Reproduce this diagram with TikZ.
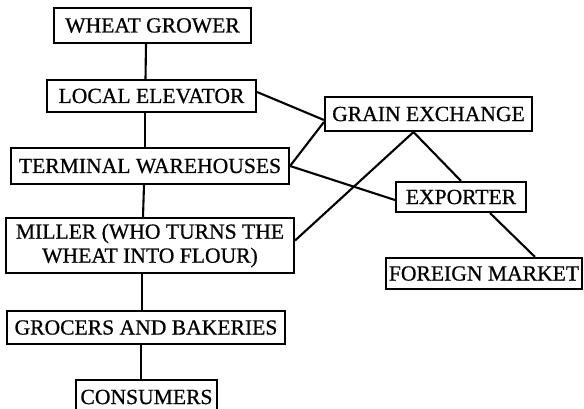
\documentclass[tikz,border=0pt]{standalone}
\usepackage{fontspec}
\newfontfamily\boxfont[FakeBold=0.7]{Liberation Serif}
\begin{document}
\begin{tikzpicture}[x=1pt,y=-1pt,
  box/.style={draw,line width=2.1pt,inner sep=0pt,align=center,
    font=\boxfont\fontsize{21.6}{24}\selectfont},
  link/.style={line width=2.1pt}]
\useasboundingbox[fill=white] (0,0) rectangle (584,408);
% left-hand chain
\node[box,minimum width=197pt,minimum height=35pt] (wheat) at (152.5,25.5) {WHEAT GROWER};
\node[box,minimum width=209pt,minimum height=32pt] (local) at (151.5,96) {LOCAL ELEVATOR};
\node[box,minimum width=278pt,minimum height=36pt] (terminal) at (150,166) {TERMINAL WAREHOUSES};
\node[box,minimum width=288pt,minimum height=55pt] (miller) at (150,245.5) {MILLER (WHO TURNS THE\\WHEAT INTO FLOUR)};
\node[box,minimum width=278pt,minimum height=33pt] (grocers) at (146,327.5) {GROCERS AND BAKERIES};
\node[box,minimum width=141pt,minimum height=34pt] (consumers) at (146.5,397) {CONSUMERS};
% right-hand side
\node[box,minimum width=207pt,minimum height=34pt] (exchange) at (428.5,114) {GRAIN EXCHANGE};
\node[box,minimum width=130pt,minimum height=30pt] (exporter) at (461,197) {EXPORTER};
\node[box,minimum width=196pt,minimum height=31pt] (foreign) at (484,273.5) {FOREIGN MARKET};
% trunk
\draw[link] ([xshift=-6.5pt]wheat.south) -- ([xshift=-6pt]local.north);
\draw[link] ([xshift=-6.5pt]local.south) -- ([xshift=-5pt]terminal.north);
\draw[link] ([xshift=-6pt]terminal.south) -- ([xshift=-7pt]miller.north);
\draw[link] ([xshift=-8pt]miller.south) -- ([xshift=-4pt]grocers.north);
\draw[link] ([xshift=-5pt]grocers.south) -- ([xshift=-5.5pt]consumers.north);
% cross links
\draw[link] ([yshift=4pt]local.east) -- ([yshift=-6pt]exchange.west);
\draw[link] (terminal.east) -- ([yshift=-8pt]exchange.west);
\draw[link] (terminal.east) -- ([yshift=-3pt]exporter.west);
\draw[link] ([xshift=-15pt]exchange.south) -- ([yshift=5pt]miller.east);
\draw[link] ([xshift=-15pt]exchange.south) -- (exporter.north);
\draw[link] ([xshift=29pt]exporter.south) -- ([xshift=51pt]foreign.north);
\end{tikzpicture}
\end{document}
